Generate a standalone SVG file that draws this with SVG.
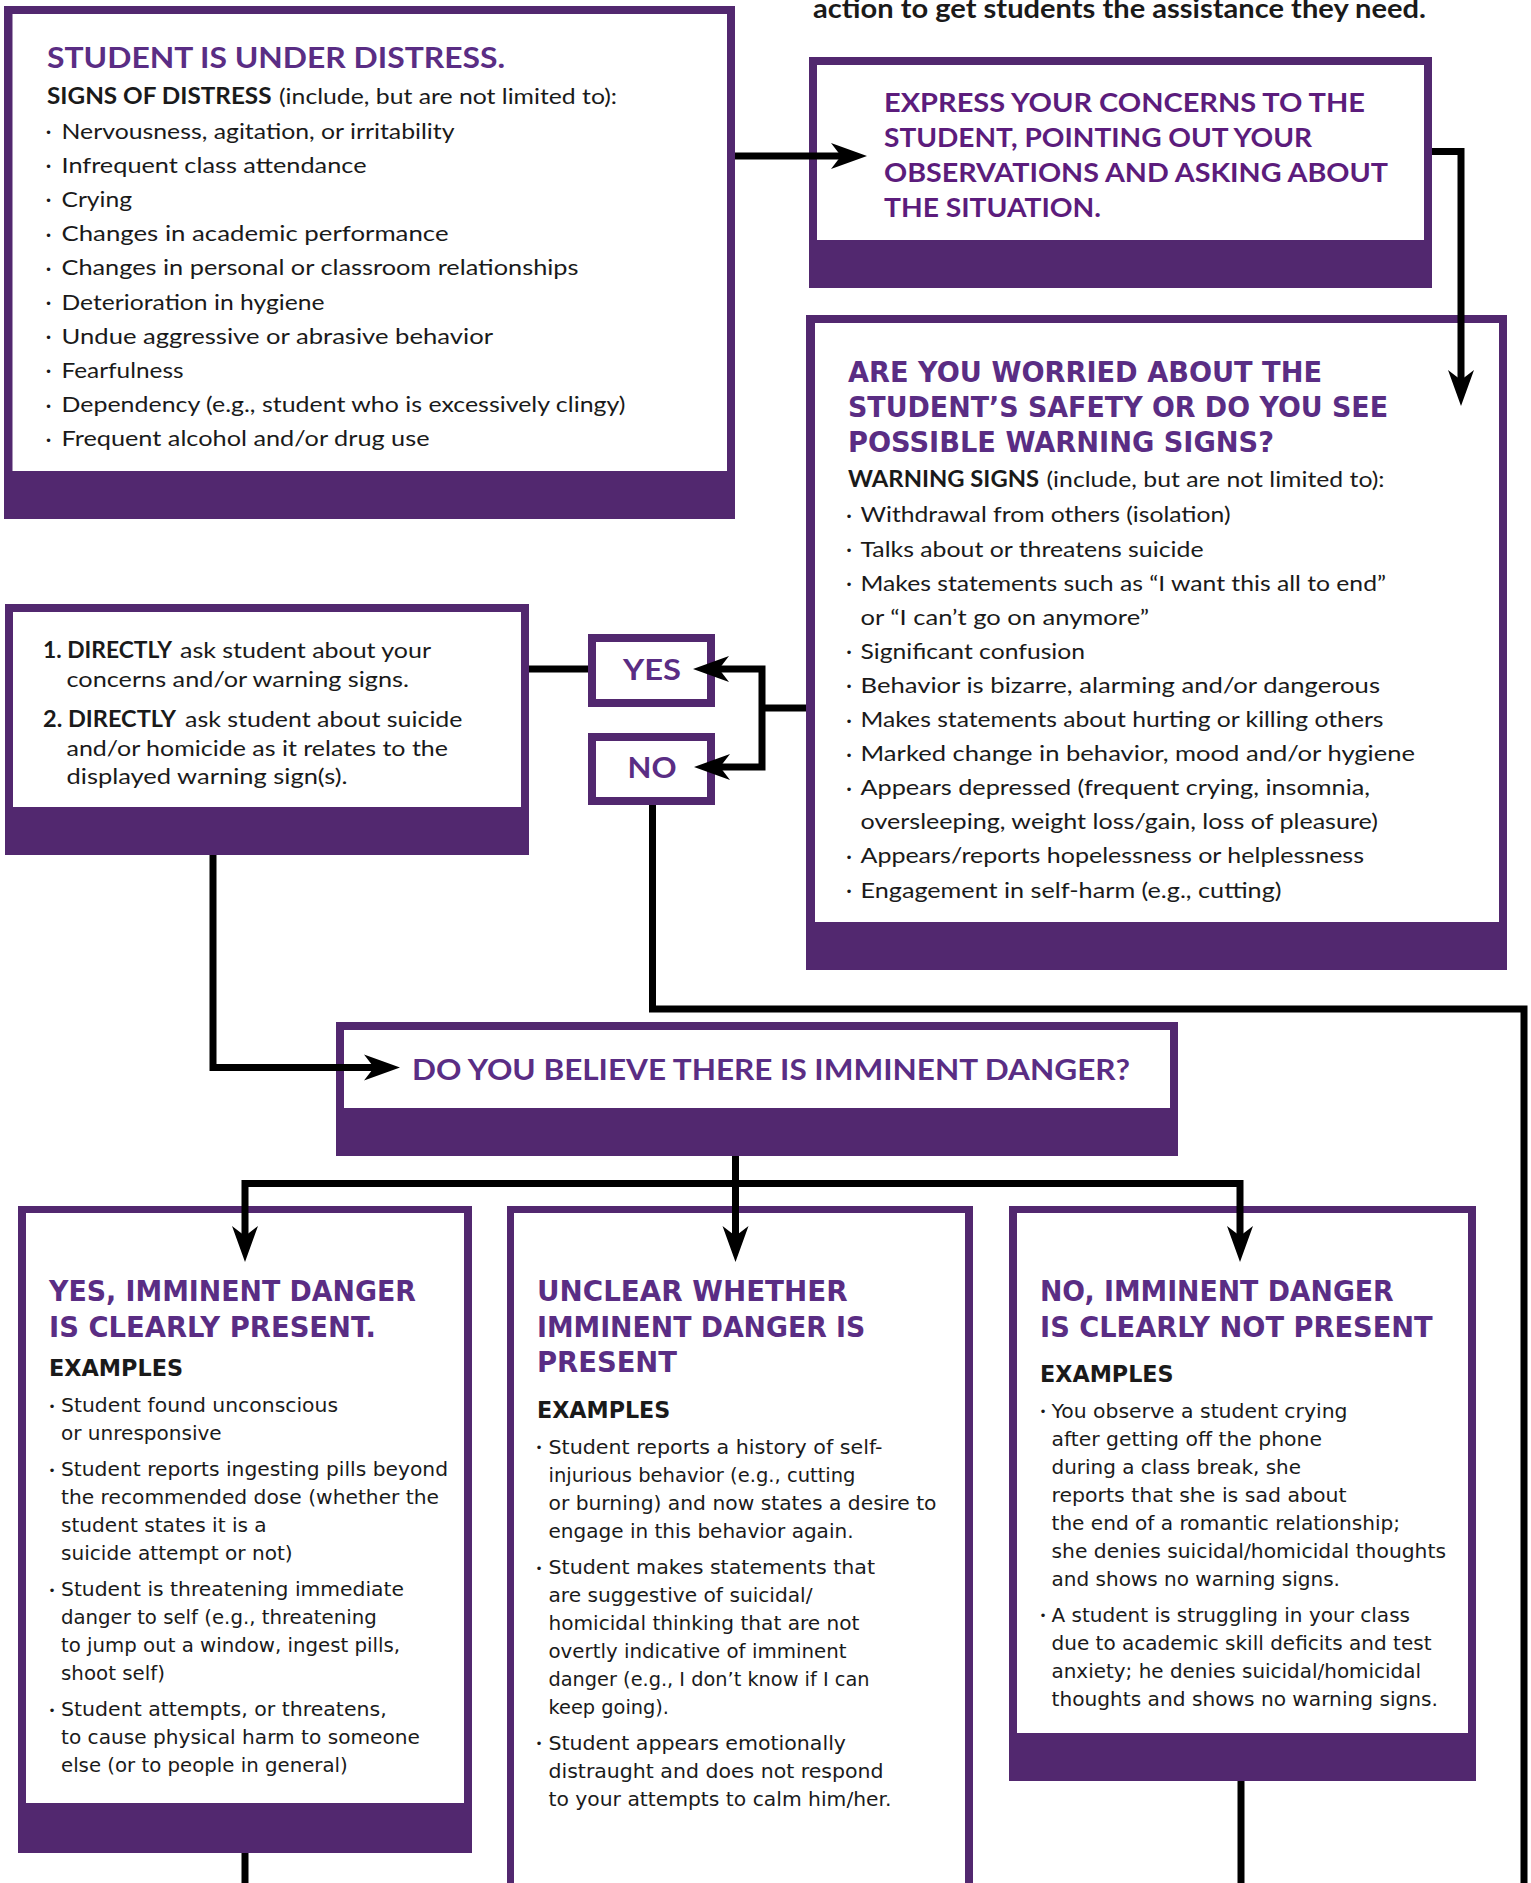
<svg xmlns="http://www.w3.org/2000/svg" width="1531" height="1883" viewBox="0 0 1531 1883">
<defs>
<style>
.pf{fill:#52286f}
.wf{fill:#fff}
.ttl{font-family:Lato,"Liberation Sans",sans-serif;font-weight:700;font-size:28px;fill:#5a2d84}
.t2{font-family:Lato,"Liberation Sans",sans-serif;font-weight:700;font-size:27px;fill:#5c1c7c}
.bd{font-family:Lato,"Liberation Sans",sans-serif;font-size:22px;fill:#1a1a1a}
.bk{font-weight:700}
.gt{font-family:"DejaVu Sans",sans-serif;font-weight:700;font-size:28px;fill:#5a2d84}
.ge{font-family:"DejaVu Sans",sans-serif;font-weight:700;font-size:23px;fill:#1a1a1a}
.gb{font-family:"DejaVu Sans",sans-serif;font-size:19px;fill:#1a1a1a}
.blt{font-family:"Liberation Sans",sans-serif;font-size:13px;fill:#1a1a1a;text-anchor:middle}
.yn{fill:#fff;stroke:#52286f;stroke-width:8}
.cn{fill:none;stroke:#000;stroke-width:7}
</style>
<marker id="ah" markerUnits="userSpaceOnUse" viewBox="-12 -15 40 30" markerWidth="40" markerHeight="30" refX="0" refY="0" orient="auto-start-reverse"><path d="M26,0 L-10,-13 L0,0 L-10,13 Z" fill="#000"/></marker>
</defs>
<rect width="1531" height="1883" fill="#fff"/>
<text x="813" y="18" font-family="Lato,'Liberation Sans',sans-serif" font-weight="700" font-size="26" fill="#1a1a1a" textLength="613" lengthAdjust="spacingAndGlyphs">action to get students the assistance they need.</text>

<g id="distress">
<rect x="4" y="6" width="731" height="513" class="pf"/>
<rect x="12.5" y="14" width="714.5" height="457" class="wf"/>
<text class="ttl" x="47" y="67.5" textLength="458" lengthAdjust="spacingAndGlyphs">STUDENT IS UNDER DISTRESS.</text>
<text class="bd bk" x="47" y="104" textLength="224.5" lengthAdjust="spacingAndGlyphs">SIGNS OF DISTRESS</text>
<text class="bd" x="279" y="104" textLength="338" lengthAdjust="spacingAndGlyphs">(include, but are not limited to):</text>
<text class="blt" x="48.5" y="137">•</text><text class="bd" x="61.5" y="138.5" textLength="393" lengthAdjust="spacingAndGlyphs">Nervousness, agitation, or irritability</text>
<text class="blt" x="48.5" y="171.2">•</text><text class="bd" x="61.5" y="172.7" textLength="305" lengthAdjust="spacingAndGlyphs">Infrequent class attendance</text>
<text class="blt" x="48.5" y="205.4">•</text><text class="bd" x="61.5" y="206.9" textLength="70.5" lengthAdjust="spacingAndGlyphs">Crying</text>
<text class="blt" x="48.5" y="239.6">•</text><text class="bd" x="61.5" y="241.1" textLength="387" lengthAdjust="spacingAndGlyphs">Changes in academic performance</text>
<text class="blt" x="48.5" y="273.8">•</text><text class="bd" x="61.5" y="275.3" textLength="517" lengthAdjust="spacingAndGlyphs">Changes in personal or classroom relationships</text>
<text class="blt" x="48.5" y="308">•</text><text class="bd" x="61.5" y="309.5" textLength="263" lengthAdjust="spacingAndGlyphs">Deterioration in hygiene</text>
<text class="blt" x="48.5" y="342.2">•</text><text class="bd" x="61.5" y="343.7" textLength="431.5" lengthAdjust="spacingAndGlyphs">Undue aggressive or abrasive behavior</text>
<text class="blt" x="48.5" y="376.4">•</text><text class="bd" x="61.5" y="377.9" textLength="122" lengthAdjust="spacingAndGlyphs">Fearfulness</text>
<text class="blt" x="48.5" y="410.6">•</text><text class="bd" x="61.5" y="412.1" textLength="564" lengthAdjust="spacingAndGlyphs">Dependency (e.g., student who is excessively clingy)</text>
<text class="blt" x="48.5" y="444.8">•</text><text class="bd" x="61.5" y="446.3" textLength="368" lengthAdjust="spacingAndGlyphs">Frequent alcohol and/or drug use</text>
</g>

<g id="express">
<rect x="809" y="57" width="623" height="231" class="pf"/>
<rect x="817" y="65" width="607" height="175" class="wf"/>
<text class="t2" x="884" y="112" textLength="481" lengthAdjust="spacingAndGlyphs">EXPRESS YOUR CONCERNS TO THE</text>
<text class="t2" x="884" y="147" textLength="428" lengthAdjust="spacingAndGlyphs">STUDENT, POINTING OUT YOUR</text>
<text class="t2" x="884" y="182" textLength="504" lengthAdjust="spacingAndGlyphs">OBSERVATIONS AND ASKING ABOUT</text>
<text class="t2" x="884" y="217" textLength="217" lengthAdjust="spacingAndGlyphs">THE SITUATION.</text>
</g>

<g id="warning">
<rect x="806" y="315" width="701" height="655" class="pf"/>
<rect x="815" y="323" width="684" height="599" class="wf"/>
<text class="gt" x="848" y="382" textLength="474" lengthAdjust="spacingAndGlyphs">ARE YOU WORRIED ABOUT THE</text>
<text class="gt" x="848" y="417" textLength="540" lengthAdjust="spacingAndGlyphs">STUDENT’S SAFETY OR DO YOU SEE</text>
<text class="gt" x="848" y="452" textLength="426" lengthAdjust="spacingAndGlyphs">POSSIBLE WARNING SIGNS?</text>
<text class="bd bk" x="848" y="487" textLength="191" lengthAdjust="spacingAndGlyphs">WARNING SIGNS</text>
<text class="bd" x="1046.5" y="487" textLength="338" lengthAdjust="spacingAndGlyphs">(include, but are not limited to):</text>
<text class="blt" x="849" y="520.5">•</text><text class="bd" x="860.5" y="522" textLength="370" lengthAdjust="spacingAndGlyphs">Withdrawal from others (isolation)</text>
<text class="blt" x="849" y="555">•</text><text class="bd" x="860.5" y="556.5" textLength="343" lengthAdjust="spacingAndGlyphs">Talks about or threatens suicide</text>
<text class="blt" x="849" y="589">•</text><text class="bd" x="860.5" y="590.5" textLength="525.5" lengthAdjust="spacingAndGlyphs">Makes statements such as “I want this all to end”</text>
<text class="bd" x="860.5" y="624.5" textLength="288.5" lengthAdjust="spacingAndGlyphs">or “I can’t go on anymore”</text>
<text class="blt" x="849" y="657">•</text><text class="bd" x="860.5" y="658.5" textLength="224.5" lengthAdjust="spacingAndGlyphs">Significant confusion</text>
<text class="blt" x="849" y="691">•</text><text class="bd" x="860.5" y="692.5" textLength="519.5" lengthAdjust="spacingAndGlyphs">Behavior is bizarre, alarming and/or dangerous</text>
<text class="blt" x="849" y="725.5">•</text><text class="bd" x="860.5" y="727" textLength="523" lengthAdjust="spacingAndGlyphs">Makes statements about hurting or killing others</text>
<text class="blt" x="849" y="759.5">•</text><text class="bd" x="860.5" y="761" textLength="554.5" lengthAdjust="spacingAndGlyphs">Marked change in behavior, mood and/or hygiene</text>
<text class="blt" x="849" y="793.5">•</text><text class="bd" x="860.5" y="795" textLength="509.5" lengthAdjust="spacingAndGlyphs">Appears depressed (frequent crying, insomnia,</text>
<text class="bd" x="860.5" y="829" textLength="517.5" lengthAdjust="spacingAndGlyphs">oversleeping, weight loss/gain, loss of pleasure)</text>
<text class="blt" x="849" y="861.5">•</text><text class="bd" x="860.5" y="863" textLength="503.5" lengthAdjust="spacingAndGlyphs">Appears/reports hopelessness or helplessness</text>
<text class="blt" x="849" y="896">•</text><text class="bd" x="860.5" y="897.5" textLength="421" lengthAdjust="spacingAndGlyphs">Engagement in self-harm (e.g., cutting)</text>
</g>

<g id="directly">
<rect x="5" y="604" width="524" height="251" class="pf"/>
<rect x="13" y="612" width="508" height="195" class="wf"/>
<text class="bd bk" x="43" y="658" textLength="129" lengthAdjust="spacingAndGlyphs">1. DIRECTLY</text>
<text class="bd" x="180" y="658" textLength="251" lengthAdjust="spacingAndGlyphs">ask student about your</text>
<text class="bd" x="66.5" y="687" textLength="342.5" lengthAdjust="spacingAndGlyphs">concerns and/or warning signs.</text>
<text class="bd bk" x="43" y="727" textLength="133" lengthAdjust="spacingAndGlyphs">2. DIRECTLY</text>
<text class="bd" x="185" y="727" textLength="277.5" lengthAdjust="spacingAndGlyphs">ask student about suicide</text>
<text class="bd" x="66.5" y="756" textLength="381.5" lengthAdjust="spacingAndGlyphs">and/or homicide as it relates to the</text>
<text class="bd" x="66.5" y="784" textLength="281" lengthAdjust="spacingAndGlyphs">displayed warning sign(s).</text>
</g>

<g id="yes">
<rect x="592" y="638" width="119" height="65" class="yn"/>
<text class="ttl" x="652" y="680" text-anchor="middle" textLength="58" lengthAdjust="spacingAndGlyphs">YES</text>
</g>
<g id="no">
<rect x="592" y="737" width="119" height="64" class="yn"/>
<text class="ttl" x="652" y="778" text-anchor="middle" textLength="49" lengthAdjust="spacingAndGlyphs">NO</text>
</g>

<g id="imminent">
<rect x="336" y="1022" width="842" height="134" class="pf"/>
<rect x="344" y="1030" width="826" height="78" class="wf"/>
<text class="ttl" x="412" y="1080" textLength="718" lengthAdjust="spacingAndGlyphs">DO YOU BELIEVE THERE IS IMMINENT DANGER?</text>
</g>

<g id="yes-danger">
<rect x="18" y="1206" width="454" height="647" class="pf"/>
<rect x="26" y="1213" width="438" height="590" class="wf"/>
<text class="gt" x="49" y="1301" textLength="367" lengthAdjust="spacingAndGlyphs">YES, IMMINENT DANGER</text>
<text class="gt" x="49" y="1337" textLength="327" lengthAdjust="spacingAndGlyphs">IS CLEARLY PRESENT.</text>
<text class="ge" x="49" y="1376" textLength="134" lengthAdjust="spacingAndGlyphs">EXAMPLES</text>
<text class="blt" x="52" y="1410.5">•</text><text class="gb" x="61" y="1412" textLength="277" lengthAdjust="spacingAndGlyphs">Student found unconscious</text>
<text class="gb" x="61" y="1440" textLength="160.7" lengthAdjust="spacingAndGlyphs">or unresponsive</text>
<text class="blt" x="52" y="1474.5">•</text><text class="gb" x="61" y="1476" textLength="387" lengthAdjust="spacingAndGlyphs">Student reports ingesting pills beyond</text>
<text class="gb" x="61" y="1504" textLength="378" lengthAdjust="spacingAndGlyphs">the recommended dose (whether the</text>
<text class="gb" x="61" y="1532" textLength="205.7" lengthAdjust="spacingAndGlyphs">student states it is a</text>
<text class="gb" x="61" y="1560" textLength="231.7" lengthAdjust="spacingAndGlyphs">suicide attempt or not)</text>
<text class="blt" x="52" y="1594.5">•</text><text class="gb" x="61" y="1596" textLength="343" lengthAdjust="spacingAndGlyphs">Student is threatening immediate</text>
<text class="gb" x="61" y="1624" textLength="315.7" lengthAdjust="spacingAndGlyphs">danger to self (e.g., threatening</text>
<text class="gb" x="61" y="1652" textLength="339" lengthAdjust="spacingAndGlyphs">to jump out a window, ingest pills,</text>
<text class="gb" x="61" y="1680" textLength="104" lengthAdjust="spacingAndGlyphs">shoot self)</text>
<text class="blt" x="52" y="1714.5">•</text><text class="gb" x="61" y="1716" textLength="325.7" lengthAdjust="spacingAndGlyphs">Student attempts, or threatens,</text>
<text class="gb" x="61" y="1744" textLength="359" lengthAdjust="spacingAndGlyphs">to cause physical harm to someone</text>
<text class="gb" x="61" y="1772" textLength="286.7" lengthAdjust="spacingAndGlyphs">else (or to people in general)</text>
</g>

<g id="unclear">
<rect x="507" y="1206" width="466" height="700" class="pf"/>
<rect x="514" y="1213" width="451" height="700" class="wf"/>
<text class="gt" x="537" y="1301" textLength="310.6" lengthAdjust="spacingAndGlyphs">UNCLEAR WHETHER</text>
<text class="gt" x="537" y="1337" textLength="328.3" lengthAdjust="spacingAndGlyphs">IMMINENT DANGER IS</text>
<text class="gt" x="537" y="1372" textLength="140" lengthAdjust="spacingAndGlyphs">PRESENT</text>
<text class="ge" x="537" y="1418" textLength="133.3" lengthAdjust="spacingAndGlyphs">EXAMPLES</text>
<text class="blt" x="539" y="1452">•</text><text class="gb" x="548.5" y="1453.5" textLength="334" lengthAdjust="spacingAndGlyphs">Student reports a history of self-</text>
<text class="gb" x="548.5" y="1481.5" textLength="307" lengthAdjust="spacingAndGlyphs">injurious behavior (e.g., cutting</text>
<text class="gb" x="548.5" y="1509.5" textLength="388" lengthAdjust="spacingAndGlyphs">or burning) and now states a desire to</text>
<text class="gb" x="548.5" y="1537.5" textLength="305" lengthAdjust="spacingAndGlyphs">engage in this behavior again.</text>
<text class="blt" x="539" y="1572.5">•</text><text class="gb" x="548.5" y="1574" textLength="326.5" lengthAdjust="spacingAndGlyphs">Student makes statements that</text>
<text class="gb" x="548.5" y="1602" textLength="264" lengthAdjust="spacingAndGlyphs">are suggestive of suicidal/</text>
<text class="gb" x="548.5" y="1630" textLength="311" lengthAdjust="spacingAndGlyphs">homicidal thinking that are not</text>
<text class="gb" x="548.5" y="1658" textLength="298" lengthAdjust="spacingAndGlyphs">overtly indicative of imminent</text>
<text class="gb" x="548.5" y="1686" textLength="321" lengthAdjust="spacingAndGlyphs">danger (e.g., I don’t know if I can</text>
<text class="gb" x="548.5" y="1714" textLength="120.5" lengthAdjust="spacingAndGlyphs">keep going).</text>
<text class="blt" x="539" y="1748">•</text><text class="gb" x="548.5" y="1749.5" textLength="297.5" lengthAdjust="spacingAndGlyphs">Student appears emotionally</text>
<text class="gb" x="548.5" y="1777.5" textLength="335" lengthAdjust="spacingAndGlyphs">distraught and does not respond</text>
<text class="gb" x="548.5" y="1805.5" textLength="343" lengthAdjust="spacingAndGlyphs">to your attempts to calm him/her.</text>
</g>

<g id="no-danger">
<rect x="1009" y="1206" width="467" height="575" class="pf"/>
<rect x="1017" y="1213" width="451" height="520" class="wf"/>
<text class="gt" x="1040" y="1301" textLength="353.7" lengthAdjust="spacingAndGlyphs">NO, IMMINENT DANGER</text>
<text class="gt" x="1040" y="1337" textLength="392.7" lengthAdjust="spacingAndGlyphs">IS CLEARLY NOT PRESENT</text>
<text class="ge" x="1040" y="1382" textLength="133.6" lengthAdjust="spacingAndGlyphs">EXAMPLES</text>
<text class="blt" x="1043" y="1416">•</text><text class="gb" x="1051.5" y="1417.5" textLength="296" lengthAdjust="spacingAndGlyphs">You observe a student crying</text>
<text class="gb" x="1051.5" y="1445.5" textLength="270.5" lengthAdjust="spacingAndGlyphs">after getting off the phone</text>
<text class="gb" x="1051.5" y="1473.5" textLength="249.5" lengthAdjust="spacingAndGlyphs">during a class break, she</text>
<text class="gb" x="1051.5" y="1502" textLength="295" lengthAdjust="spacingAndGlyphs">reports that she is sad about</text>
<text class="gb" x="1051.5" y="1530" textLength="348.5" lengthAdjust="spacingAndGlyphs">the end of a romantic relationship;</text>
<text class="gb" x="1051.5" y="1558" textLength="394.5" lengthAdjust="spacingAndGlyphs">she denies suicidal/homicidal thoughts</text>
<text class="gb" x="1051.5" y="1586" textLength="288.5" lengthAdjust="spacingAndGlyphs">and shows no warning signs.</text>
<text class="blt" x="1043" y="1620">•</text><text class="gb" x="1051.5" y="1621.5" textLength="358.5" lengthAdjust="spacingAndGlyphs">A student is struggling in your class</text>
<text class="gb" x="1051.5" y="1650" textLength="380" lengthAdjust="spacingAndGlyphs">due to academic skill deficits and test</text>
<text class="gb" x="1051.5" y="1678" textLength="369.5" lengthAdjust="spacingAndGlyphs">anxiety; he denies suicidal/homicidal</text>
<text class="gb" x="1051.5" y="1706" textLength="386.5" lengthAdjust="spacingAndGlyphs">thoughts and shows no warning signs.</text>
</g>

<g id="connectors">
<path class="cn" d="M735,156 H841" marker-end="url(#ah)"/>
<path class="cn" d="M1432,151.5 H1461 V380" marker-end="url(#ah)"/>
<path class="cn" d="M806,708 H762"/>
<path class="cn" d="M719,669 H762 V767 H720" marker-start="url(#ah)" marker-end="url(#ah)"/>
<path class="cn" d="M529,669 H588"/>
<path class="cn" d="M652.5,805 V1009 H1524 V1883"/>
<path class="cn" d="M213,855 V1067.5 H374" marker-end="url(#ah)"/>
<path class="cn" d="M245,1236 V1183.5 H1240 V1236" marker-start="url(#ah)" marker-end="url(#ah)"/>
<path class="cn" d="M735.5,1156 V1236" marker-end="url(#ah)"/>
<path class="cn" d="M245,1853 V1883"/>
<path class="cn" d="M1241,1781 V1883"/>
</g>
</svg>
